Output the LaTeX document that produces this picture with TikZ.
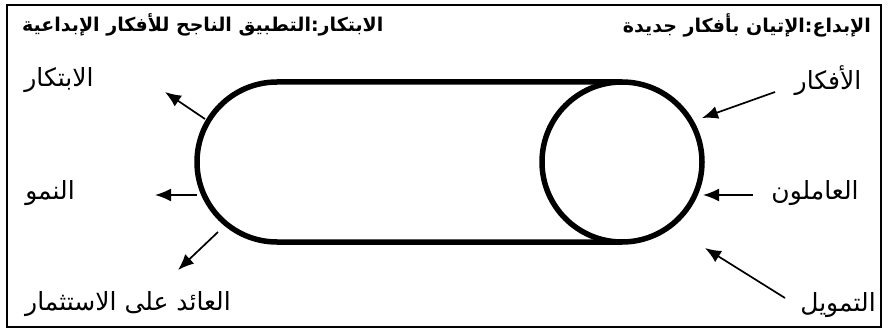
\documentclass[tikz,border=0pt]{standalone}
\usepackage{fontspec}
\newfontfamily\arabicfont[Script=Arabic]{DejaVu Sans}
\TeXXeTstate=1
\usetikzlibrary{arrows.meta}
\tikzset{
  lbl/.style={inner sep=0pt, font=\arabicfont\fontsize{25}{30}\selectfont},
  ttl/.style={inner sep=0pt, font=\arabicfont\bfseries\fontsize{19}{23}\selectfont},
  arr/.style={line width=1.7pt, -{Latex[length=16pt,width=13pt]}},
  thick5/.style={line width=5.5pt}
}
\begin{document}
\begin{tikzpicture}[x=1pt,y=-1pt]
\useasboundingbox (0,0) rectangle (889,334);
\draw[line width=2pt] (7,5) rectangle (881,327);
% titles
\node[ttl, anchor=east] (tr) at (871,25) {\beginR الإبداع:الإتيان بأفكار جديدة\endR};
\node[ttl, anchor=west] (tl) at (22,25) {\beginR الابتكار:التطبيق الناجح للأفكار الإبداعية\endR};
% capsule
\node[draw, circle, thick5, minimum size=160pt, inner sep=0pt] (c) at (622,162) {};
\draw[thick5] (622,82) -- (277,82) arc[start angle=-90, end angle=-270, radius=80] -- (622,242);
% labels left
\node[lbl] (l1) at (59,80) {\beginR الابتكار\endR};
\node[lbl] (l2) at (50,193) {\beginR النمو\endR};
\node[lbl] (l3) at (128,304) {\beginR العائد على الاستثمار\endR};
% labels right
\node[lbl] (r1) at (828,81) {\beginR الأفكار\endR};
\node[lbl] (r2) at (815,193) {\beginR العاملون\endR};
\node[lbl] (r3) at (838,305) {\beginR التمويل\endR};
% arrow endpoints
\coordinate (a1s) at (205,119); \coordinate (a1e) at (165,92);
\coordinate (a2s) at (197,195); \coordinate (a2e) at (155,195);
\coordinate (a3s) at (218,232); \coordinate (a3e) at (178,270);
\coordinate (b1s) at (775,92);  \coordinate (b1e) at (702,118);
\coordinate (b2s) at (753,195); \coordinate (b2e) at (703,195);
\coordinate (b3s) at (785,298); \coordinate (b3e) at (705,248);
\draw[arr] (a1s) -- (a1e);
\draw[arr] (a2s) -- (a2e);
\draw[arr] (a3s) -- (a3e);
\draw[arr] (b1s) -- (b1e);
\draw[arr] (b2s) -- (b2e);
\draw[arr] (b3s) -- (b3e);
\end{tikzpicture}
\end{document}
